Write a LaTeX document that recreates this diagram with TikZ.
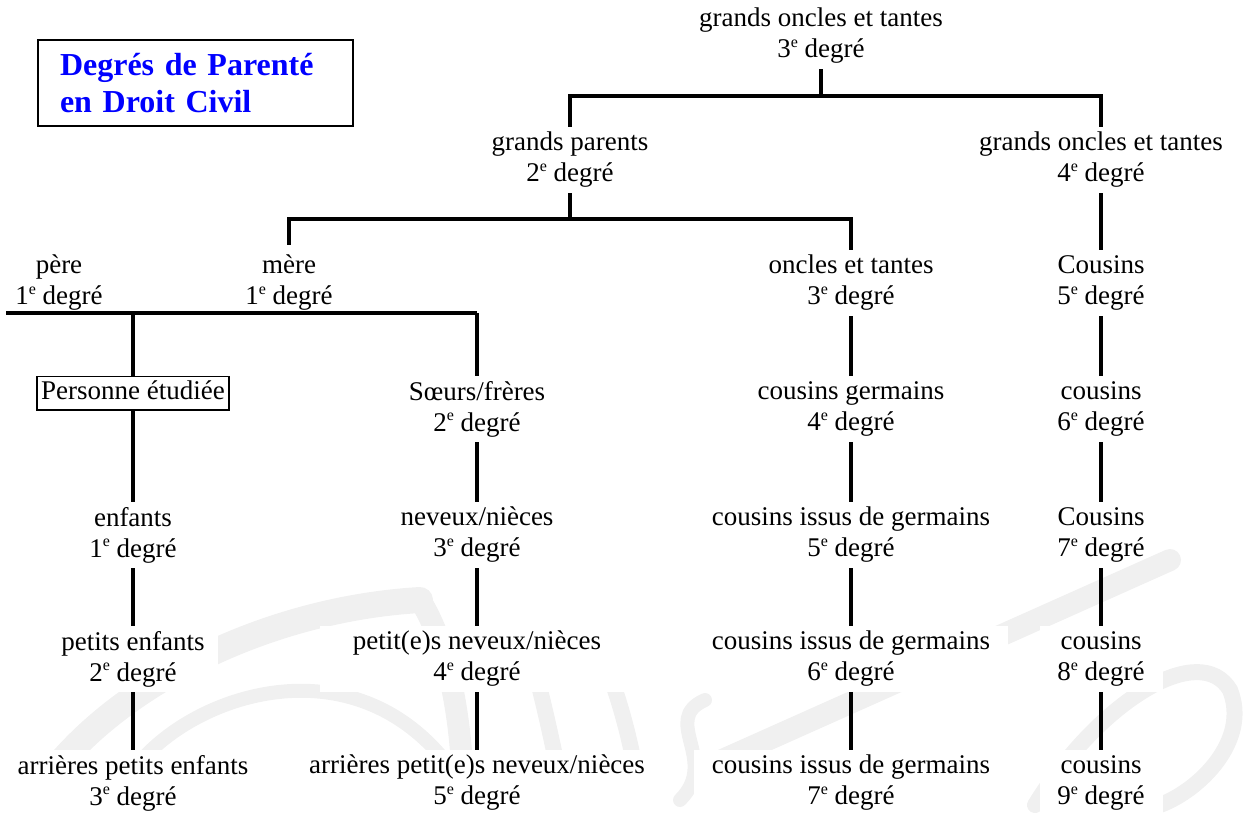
\documentclass[tikz,border=0pt]{standalone}
\usepackage{fontspec}
\setmainfont{Liberation Serif}
\newcommand{\dg}[1]{#1\raisebox{10.5pt}{\fontsize{16}{16}\selectfont e} degré}
\begin{document}
\begin{tikzpicture}[x=1pt,y=-1pt,
  lbl/.style={align=center, inner sep=0pt, minimum height=66pt, font=\fontsize{27}{31}\selectfont},
  wb/.style={fill=white},
  wire/.style={line width=3.4pt},
  wm/.style={draw=gray!12, line width=#1, line cap=round},
  wm/.default=20pt
]
\useasboundingbox (0,0) rectangle (1244,814);
% watermark
\draw[wm=26pt] (30,805) .. controls (90,700) and (250,610) .. (420,600);
\draw[wm=22pt] (420,600) .. controls (445,640) and (458,700) .. (462,765);
\draw[wm=14pt] (130,775) .. controls (180,700) and (340,640) .. (440,755);
\draw[wm=16pt] (540,690) .. controls (550,730) and (558,770) .. (565,805);
\draw[wm=16pt] (615,690) .. controls (625,720) and (635,760) .. (640,800);
\draw[wm=14pt] (705,700) .. controls (660,720) and (720,760) .. (680,800);
\draw[wm=22pt] (700,770) -- (1170,560);
\draw[wm=16pt] (1035,805) .. controls (1100,700) and (1200,640) .. (1230,690) .. controls (1250,740) and (1200,790) .. (1160,805);

% title
\node[draw, line width=1.5pt, align=left, text width=271pt, inner xsep=22pt, inner ysep=0pt,
      minimum height=86pt, text=blue, font=\bfseries\fontsize{32}{37}\selectfont] (title) at (195.5,83)
      {Degrés de Parenté\\en Droit Civil};

% row 0
\node[lbl] (go3) at (821,36) {grands oncles et tantes\\\dg{3}};
% row 1
\node[lbl] (gp) at (570,160) {grands parents\\\dg{2}};
\node[lbl] (go4) at (1101,160) {grands oncles et tantes\\\dg{4}};
% row 2
\node[lbl] (pere) at (59,283) {père\\\dg{1}};
\node[lbl, minimum height=76pt] (mere) at (289,283) {mère\\\dg{1}};
\node[lbl] (oncles) at (851,283) {oncles et tantes\\\dg{3}};
\node[lbl] (c5) at (1101,283) {Cousins\\\dg{5}};
% row 3
\node[draw, line width=1.5pt, inner xsep=4pt, inner ysep=4.5pt, text height=18.5pt, text depth=6pt,
      font=\fontsize{27}{31}\selectfont] (pers) at (133,393) {Personne étudiée};
\node[lbl] (soeurs) at (477,409) {Sœurs/frères\\\dg{2}};
\node[lbl] (cg) at (851,409) {cousins germains\\\dg{4}};
\node[lbl] (c6) at (1101,409) {cousins\\\dg{6}};
% row 4
\node[lbl] (enf) at (133,535) {enfants\\\dg{1}};
\node[lbl] (nev) at (477,535) {neveux/nièces\\\dg{3}};
\node[lbl] (ci5) at (851,535) {cousins issus de germains\\\dg{5}};
\node[lbl] (c7) at (1101,535) {Cousins\\\dg{7}};
% row 5
\node[lbl, wb, minimum width=170pt] (pe) at (133,659) {petits enfants\\\dg{2}};
\node[lbl, wb, minimum width=315pt] (pnev) at (477,659) {petit(e)s neveux/nièces\\\dg{4}};
\node[lbl, wb, minimum width=314pt] (ci6) at (851,659) {cousins issus de germains\\\dg{6}};
\node[lbl, wb, minimum width=123pt] (c8) at (1101,659) {cousins\\\dg{8}};
% row 6
\node[lbl, wb, minimum width=266pt] (ape) at (133,783) {arrières petits enfants\\\dg{3}};
\node[lbl, wb, minimum width=352pt] (apnev) at (477,783) {arrières petit(e)s neveux/nièces\\\dg{5}};
\node[lbl, wb, minimum width=314pt] (ci7) at (851,783) {cousins issus de germains\\\dg{7}};
\node[lbl, wb, minimum width=123pt] (c9) at (1101,783) {cousins\\\dg{9}};

% junctions
\coordinate (j0) at (821,96);
\coordinate (j1) at (570,219);
\coordinate (j2L) at (6,313);
\coordinate (j2R) at (477,313);

% connectors
\draw[wire] (go3) -- (j0);
\draw[wire] (gp.north) |- (j0);
\draw[wire] (go4.north) |- (j0);
\draw[wire] (gp) -- (j1);
\draw[wire] (mere.north) |- (j1);
\draw[wire] (oncles.north) |- (j1);
\draw[wire] (j2L) -- (j2R);
\draw[wire] (pers.north) -- (pers.north |- j2L);
\draw[wire] (soeurs.north) -- (j2R);
\draw[wire] (pers) -- (enf) -- (pe) -- (ape);
\draw[wire] (soeurs) -- (nev) -- (pnev) -- (apnev);
\draw[wire] (oncles) -- (cg) -- (ci5) -- (ci6) -- (ci7);
\draw[wire] (go4) -- (c5) -- (c6) -- (c7) -- (c8) -- (c9);
\end{tikzpicture}
\end{document}
